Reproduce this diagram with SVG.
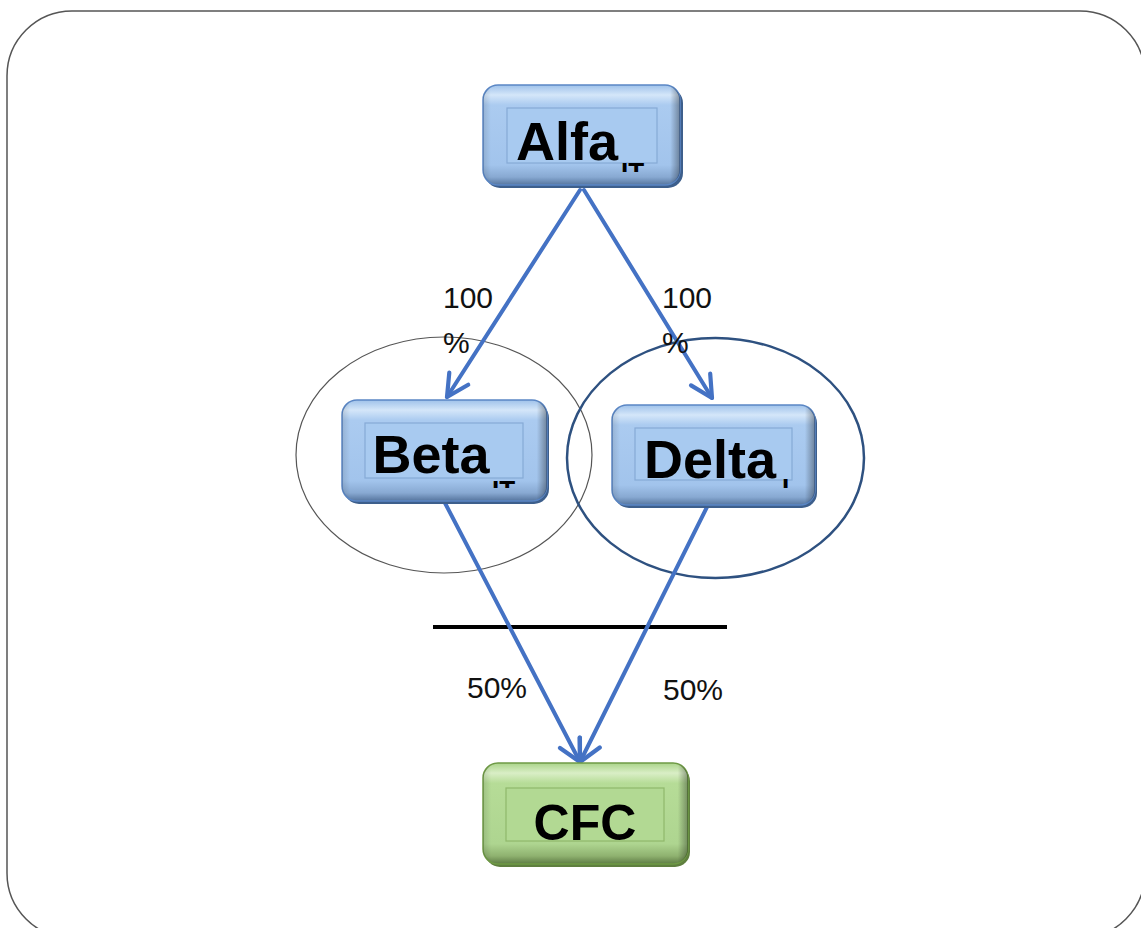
<svg xmlns="http://www.w3.org/2000/svg" width="1141" height="928" viewBox="0 0 1141 928">
<defs>
<style>
.lbl{font-family:"Liberation Sans",Arial,sans-serif;font-size:30px;fill:#111}
.node{font-family:"Liberation Sans",Arial,sans-serif;font-weight:bold;font-size:54px;fill:#000;text-anchor:middle}
.sub{font-family:"Liberation Sans",Arial,sans-serif;font-weight:bold;font-size:26px;fill:#000}
.conn{stroke:#4472c4;stroke-width:4;fill:none;stroke-linecap:round}
.bshadow{fill:#3d5f8c}
.bbox{fill:url(#gBlue);stroke:#5b87c5;stroke-width:1.5}
.binner{fill:#a8caf0;stroke:#86aad6;stroke-width:1.2}
.gshadow{fill:#5f7f3f}
.gbox{fill:url(#gGreen);stroke:#6f9a46;stroke-width:1.5}
.ginner{fill:#b2d993;stroke:#8fb86b;stroke-width:1.2}
.edge{fill:url(#gEdge)}
</style>
<linearGradient id="gBlue" x1="0" y1="0" x2="0" y2="1">
<stop offset="0" stop-color="#9fc2ea"/>
<stop offset="0.1" stop-color="#d4e6f9"/>
<stop offset="0.2" stop-color="#abcbf0"/>
<stop offset="0.8" stop-color="#a2c4ec"/>
<stop offset="0.92" stop-color="#88a9d2"/>
<stop offset="1" stop-color="#56759e"/>
</linearGradient>
<linearGradient id="gGreen" x1="0" y1="0" x2="0" y2="1">
<stop offset="0" stop-color="#abd48a"/>
<stop offset="0.1" stop-color="#d9eec6"/>
<stop offset="0.2" stop-color="#b6dc97"/>
<stop offset="0.8" stop-color="#aed590"/>
<stop offset="0.92" stop-color="#8fb270"/>
<stop offset="1" stop-color="#5e7c44"/>
</linearGradient>
<linearGradient id="gEdge" x1="0" y1="0" x2="1" y2="0">
<stop offset="0" stop-color="#000" stop-opacity="0.12"/>
<stop offset="0.04" stop-color="#000" stop-opacity="0"/>
<stop offset="0.95" stop-color="#000" stop-opacity="0"/>
<stop offset="1" stop-color="#000" stop-opacity="0.35"/>
</linearGradient>
<marker id="arr" viewBox="0 0 20 20" refX="17.5" refY="10" markerWidth="7.5" markerHeight="7.5" orient="auto" markerUnits="strokeWidth">
<path d="M3,2.5 L17.5,10 L3,17.5" fill="none" stroke="#4472c4" stroke-width="2.8" stroke-linecap="round" stroke-linejoin="round"/>
</marker>
<clipPath id="cA"><rect x="612" y="161" width="50" height="11"/></clipPath>
<clipPath id="cB"><rect x="488" y="480" width="40" height="8"/></clipPath>
<clipPath id="cD"><rect x="780" y="478" width="12" height="10"/></clipPath>
</defs>
<rect width="1141" height="928" fill="#fff"/>
<rect x="7" y="11" width="1138" height="927" rx="65" ry="65" fill="#fff" stroke="#555" stroke-width="1.5"/>

<g id="ellipses">
<ellipse cx="444" cy="455" rx="148" ry="118" fill="none" stroke="#555" stroke-width="1.2"/>
<ellipse cx="715.5" cy="458" rx="148.5" ry="120" fill="none" stroke="#2e5180" stroke-width="2.5"/>
</g>

<line id="divider" x1="433" y1="627" x2="727" y2="627" stroke="#000" stroke-width="4"/>

<g id="connectors">
<line class="conn" x1="580" y1="190" x2="447" y2="397" marker-end="url(#arr)"/>
<line class="conn" x1="584" y1="190" x2="712" y2="398" marker-end="url(#arr)"/>
<line class="conn" x1="445" y1="503" x2="580" y2="762" marker-end="url(#arr)"/>
<line class="conn" x1="708" y1="505" x2="580" y2="762" marker-end="url(#arr)"/>
</g>

<g id="labels">
<text class="lbl" x="443" y="308">100</text>
<text class="lbl" x="443" y="353">%</text>
<text class="lbl" x="662" y="308">100</text>
<text class="lbl" x="662" y="353">%</text>
<text class="lbl" x="467" y="698">50%</text>
<text class="lbl" x="663" y="700">50%</text>
</g>

<g id="node-alfa">
<rect class="bshadow" x="485" y="88" width="198" height="100" rx="15"/>
<rect class="bbox" x="483" y="85" width="197" height="100" rx="15"/>
<rect class="edge" x="483" y="85" width="197" height="100" rx="15"/>
<rect class="binner" x="507" y="108" width="150" height="55"/>
<text class="node" x="567" y="160">Alfa</text>
<text class="sub" x="621" y="181" clip-path="url(#cA)">IT</text>
</g>

<g id="node-beta">
<rect class="bshadow" x="344" y="403" width="205" height="101" rx="15"/>
<rect class="bbox" x="342" y="400" width="205" height="101" rx="15"/>
<rect class="edge" x="342" y="400" width="205" height="101" rx="15"/>
<rect class="binner" x="365" y="423" width="158" height="55"/>
<text class="node" x="431" y="473">Beta</text>
<text class="sub" x="492" y="499" clip-path="url(#cB)">IT</text>
</g>

<g id="node-delta">
<rect class="bshadow" x="614" y="408" width="203" height="100" rx="15"/>
<rect class="bbox" x="612" y="405" width="203" height="100" rx="15"/>
<rect class="edge" x="612" y="405" width="203" height="100" rx="15"/>
<rect class="binner" x="635" y="428" width="157" height="52"/>
<text class="node" x="710" y="478">Delta</text>
<text class="sub" x="782" y="497" clip-path="url(#cD)">I</text>
</g>

<g id="node-cfc">
<rect class="gshadow" x="485" y="766" width="205" height="101" rx="15"/>
<rect class="gbox" x="483" y="763" width="205" height="101" rx="15"/>
<rect class="edge" x="483" y="763" width="205" height="101" rx="15"/>
<rect class="ginner" x="506" y="788" width="158" height="53"/>
<text class="node" x="585" y="840" style="font-size:50px">CFC</text>
</g>
</svg>
